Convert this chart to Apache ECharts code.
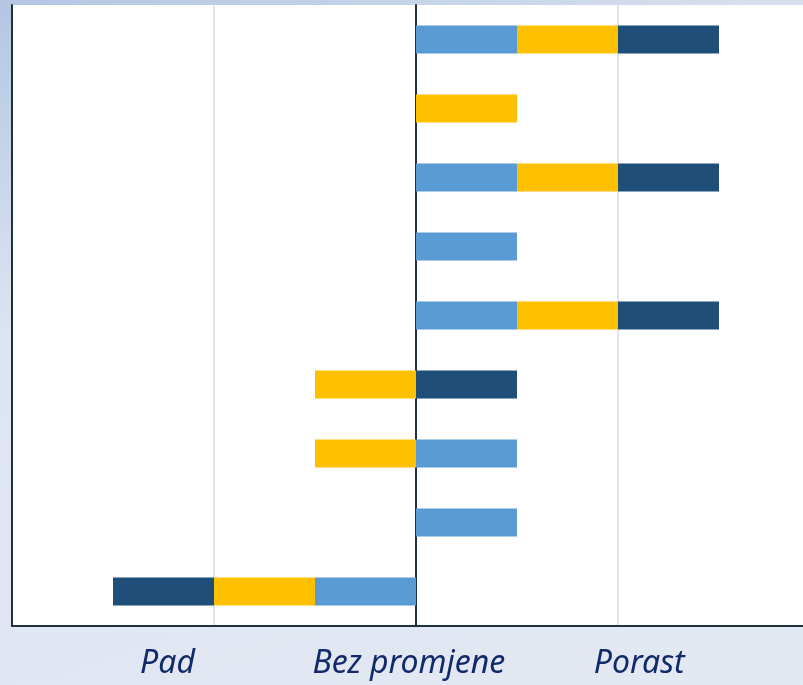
<!DOCTYPE html>
<html>
<head>
<meta charset="utf-8">
<script src="https://cdn.jsdelivr.net/npm/echarts@6/dist/echarts.min.js"></script>
<style>
    html, body { margin: 0; padding: 0; }
    body {
        width: 803px; height: 685px; overflow: hidden;
        background: linear-gradient(160deg, #b3c6e2 0%, #dde5f1 35%, #e3e9f3 100%);
    }
    /* plot area runs past the right edge of the window, like in the original */
    #chart { width: 822px; height: 685px; }
</style>
</head>
<body>
<div id="chart"></div>
<script>
    // redovi odozgo prema dolje
    var categories = ['r1', 'r2', 'r3', 'r4', 'r5', 'r6', 'r7', 'r8', 'r9']
    var lightValues = [1, '-', 1, 1, 1, '-', 1, 1, -1]
    var yellowValues = [1, 1, 1, '-', 1, -1, -1, '-', -1]
    var darkValues = [1, '-', 1, '-', 1, 1, '-', '-', -1]
    // oznake ispod osi i njihove pozicije na skali
    var bottomLabels = ['Pad', 'Bez promjene', 'Porast']
    var bottomLabelPos = [-2.46, -0.07, 2.21]

    var colors = ['#5b9bd5', '#ffc000', '#1f4e79']

    function barSeries(name, data, color) {
        return {
            name: name,
            type: 'bar',
            stack: 'total',
            barWidth: 28,
            itemStyle: { color: color },
            data: data
        }
    }

    var chart = echarts.init(document.getElementById('chart'))
    var option = {
        animation: false,
        grid: {
            left: 12,
            right: 2,
            top: 5,
            bottom: 59,
            show: true,
            backgroundColor: '#ffffff',
            borderWidth: 0
        },
        xAxis: [
            {
                type: 'value',
                min: -4,
                max: 4,
                interval: 2,
                axisLine: { show: true, onZero: false, lineStyle: { color: '#1f3040', width: 2 } },
                axisTick: { show: false },
                axisLabel: { show: false },
                splitLine: { show: true, lineStyle: { color: '#d8d8e0', width: 1.5 } }
            },
            {
                type: 'value',
                position: 'bottom',
                min: -4,
                max: 4,
                axisLine: { show: false },
                axisTick: { show: false },
                splitLine: { show: false },
                axisLabel: {
                    show: true,
                    customValues: bottomLabelPos,
                    margin: 22,
                    color: '#132a6a',
                    fontSize: 32,
                    fontStyle: 'italic',
                    fontFamily: 'Noto Sans',
                    formatter: function (v) {
                        var i = bottomLabelPos.indexOf(v)
                        return i >= 0 ? bottomLabels[i] : ''
                    }
                }
            }
        ],
        yAxis: [
            {
                type: 'category',
                inverse: true,
                data: categories,
                axisLine: { show: true, onZero: true, lineStyle: { color: '#1f3040', width: 2 } },
                axisTick: { show: false },
                axisLabel: { show: false },
                splitLine: { show: false }
            },
            {
                type: 'category',
                inverse: true,
                position: 'left',
                data: categories,
                axisLine: { show: true, onZero: false, lineStyle: { color: '#1f3040', width: 2 } },
                axisTick: { show: false },
                axisLabel: { show: false },
                splitLine: { show: false }
            }
        ],
        series: [
            barSeries('light', lightValues, colors[0]),
            barSeries('yellow', yellowValues, colors[1]),
            barSeries('dark', darkValues, colors[2])
        ]
    }
    chart.setOption(option)
</script>
</body>
</html>
